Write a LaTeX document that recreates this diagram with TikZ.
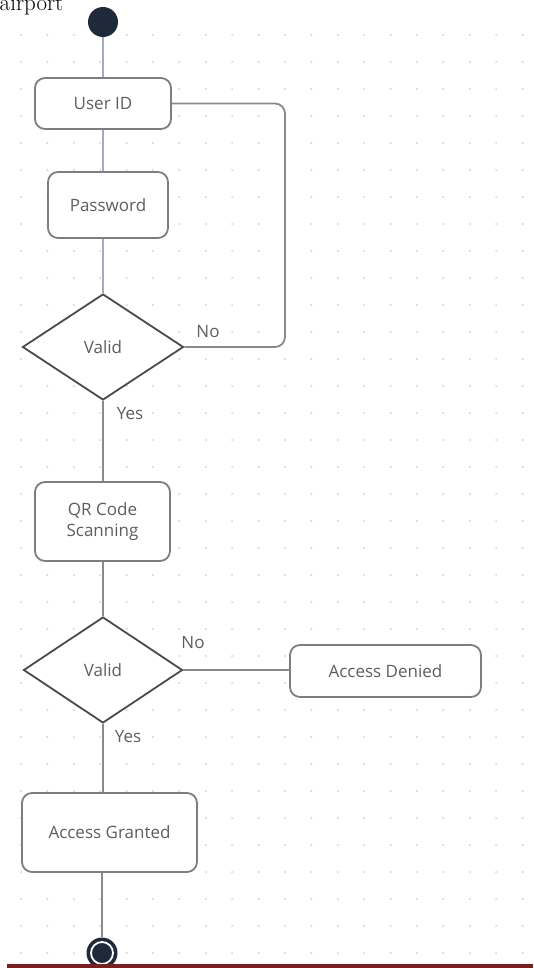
\documentclass[tikz,border=0pt]{standalone}
\usepackage{fontspec}
\usetikzlibrary{shapes.geometric}
\newfontfamily\labfont{Open Sans}
\definecolor{dark}{HTML}{1E2A3A}
\definecolor{boxline}{HTML}{7E7E7E}
\definecolor{dialine}{HTML}{4A4A4A}
\definecolor{conn}{HTML}{8A8A8A}
\definecolor{connblue}{HTML}{A3ABBD}
\definecolor{txt}{HTML}{5E5E5E}
\definecolor{gdot}{HTML}{D9D9D9}
\definecolor{redbar}{HTML}{7D1D1D}
\tikzset{
  every node/.style={font=\labfont\fontsize{17}{20.5}\selectfont, text=txt},
  actbox/.style={draw=boxline, line width=1.8pt, fill=white, rounded corners=10pt,
    inner sep=0pt, align=center},
  decision/.style={diamond, draw=dialine, line width=1.8pt, fill=white, inner sep=0pt,
    aspect=1.5},
  flow/.style={draw=conn, line width=1.8pt},
  flowb/.style={draw=connblue, line width=1.8pt},
  lbl/.style={inner sep=0pt}
}
\begin{document}
\begin{tikzpicture}[x=1pt,y=-1pt]
\useasboundingbox (0,0) rectangle (533,968);
% dot grid
\foreach \i in {0,...,19}{
  \foreach \j in {0,...,34}{
    \fill[gdot] (21+26.4*\i, 35+27*\j) circle (1.2);
  }
}
% title fragment
\node[font=\rmfamily\fontsize{23}{26}\selectfont, text=black, anchor=base west, inner sep=0pt] (title) at (-0.5,11) {airport};
% nodes
\node[circle, fill=dark, minimum size=30pt, inner sep=0pt] (start) at (103,22) {};
\node[actbox, minimum width=136pt, minimum height=51pt] (uid) at (103,103.5) {User ID};
\node[actbox, minimum width=120pt, minimum height=66pt] (pwd) at (108,205) {Password};
\node[decision, minimum width=161pt, minimum height=106pt] (d1) at (103,347) {Valid};
\node[actbox, minimum width=135pt, minimum height=79pt] (qr) at (102.5,521.5) {QR Code\\Scanning};
\node[decision, minimum width=159pt, minimum height=106pt] (d2) at (103,670) {Valid};
\node[actbox, minimum width=191pt, minimum height=52pt] (ad) at (385.5,671) {Access Denied};
\node[actbox, minimum width=175pt, minimum height=79pt] (ag) at (109.5,832.5) {Access Granted};
\node[circle, fill=dark, minimum size=31pt, inner sep=0pt] (endo) at (102,953) {};
\node[circle, fill=dark, draw=white, line width=1.8pt, minimum size=22pt, inner sep=0pt] (endi) at (102,953) {};
% connectors
\draw[flowb] (start) -- (start |- uid.north);
\draw[flowb] (uid.south) -- (uid.south |- pwd.north);
\draw[flowb] (uid.south |- pwd.south) -- (d1.north);
\coordinate (loopc) at (285,345);
\draw[flow, rounded corners=10pt] (d1.east) -- (d1.east -| loopc) -- (loopc |- uid.east) -- (uid.east);
\draw[flow] (d1.south) -- (d1.south |- qr.north);
\draw[flow] (d1.south |- qr.south) -- (d2.north);
\draw[flow] (d2.east) -- (ad.west |- d2.east);
\draw[flow] (d2.south) -- (d2.south |- ag.north);
\draw[flow] (endo.north |- ag.south) -- (endo.north);
% labels
\node[lbl] (no1) at (208,332) {No};
\node[lbl] (yes1) at (130,414) {Yes};
\node[lbl] (no2) at (193,643) {No};
\node[lbl] (yes2) at (128,737) {Yes};
% bottom bar
\fill[redbar] (7,964) rectangle (533,968);
\end{tikzpicture}
\end{document}
